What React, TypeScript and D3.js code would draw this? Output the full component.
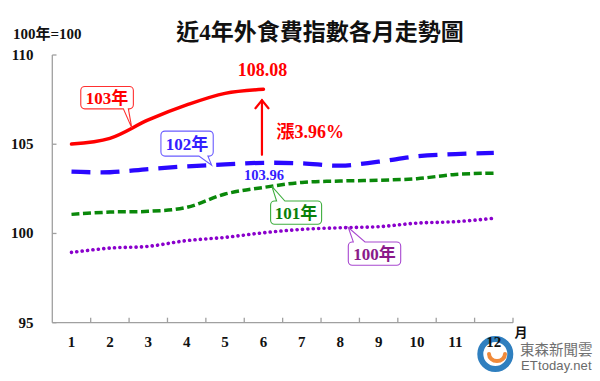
import React from "react";
import * as d3 from "d3";

const months = ["1", "2", "3", "4", "5", "6", "7", "8", "9", "10", "11", "12"];
const yTicks = [95, 100, 105, 110];
const series100 = [98.94, 99.18, 99.28, 99.6, 99.78, 100.04, 100.23, 100.32, 100.38, 100.58, 100.66, 100.85];
const series101 = [101.07, 101.2, 101.24, 101.46, 102.21, 102.58, 102.86, 102.94, 102.98, 103.07, 103.31, 103.38];
const series102 = [103.46, 103.43, 103.61, 103.76, 103.87, 103.96, 103.93, 103.8, 104.02, 104.32, 104.45, 104.52];
const series103 = [105.01, 105.33, 106.36, 107.2, 107.85, 108.08];
const seriesNames = ["100年", "101年", "102年", "103年"];
const title = "近4年外食費指數各月走勢圖";
const baseLabel = "100年=100";
const riseLabel = "漲3.96%";

const W = 600, H = 381;
const serif = "'Liberation Serif', 'Times New Roman', 'Noto Sans CJK TC', serif";

function calloutPath(bx: number, by: number, w: number, h: number, r: number, side: string, b1: number, b2: number, tx: number, ty: number) {
  const p = d3.path();
  p.moveTo(bx + r, by);
  if (side === "top") {
    p.lineTo(b1, by); p.lineTo(tx, ty); p.lineTo(b2, by);
  }
  p.lineTo(bx + w - r, by);
  p.arcTo(bx + w, by, bx + w, by + r, r);
  p.lineTo(bx + w, by + h - r);
  p.arcTo(bx + w, by + h, bx + w - r, by + h, r);
  if (side === "bottom") {
    p.lineTo(b2, by + h); p.lineTo(tx, ty); p.lineTo(b1, by + h);
  }
  p.lineTo(bx + r, by + h);
  p.arcTo(bx, by + h, bx, by + h - r, r);
  p.lineTo(bx, by + r);
  p.arcTo(bx, by, bx + r, by, r);
  p.closePath();
  return p.toString();
}

export default function App() {
  const x = d3.scaleBand<string>().domain(months).range([52.3, 513]);
  const y = d3.scaleLinear().domain([95, 110]).range([322.7, 55]);
  const cx = (i: number) => (x(months[0]) as number) + x.bandwidth() * (i + 0.5);

  const line = d3.line<number>()
    .x((_, i) => cx(i))
    .y((d) => y(d))
    .curve(d3.curveCatmullRom.alpha(0.5));

  const at = (s: number[], f: number) => {
    const i = Math.floor(f), t = f - i;
    const v = s[i] + (s[Math.min(i + 1, s.length - 1)] - s[i]) * t;
    return { tx: cx(f), ty: y(v) };
  };

  const callouts = [
    { name: seriesNames[3], s: series103, f: 1.57, dx: -51, dy: -41.3, w: 52.6, h: 22.3, side: "bottom", b1: -8.4, b2: -3.4, stroke: "#ff3030", fill: "#ff0000" },
    { name: seriesNames[2], s: series102, f: 3.65, dx: -50.7, dy: -34, w: 52.3, h: 25, side: "bottom", b1: -12.7, b2: -3.7, stroke: "#6a5cff", fill: "#3320ff" },
    { name: seriesNames[1], s: series101, f: 5.22, dx: -1.3, dy: 14.7, w: 51, h: 23.3, side: "top", b1: 4.7, b2: 13, stroke: "#3fae3f", fill: "#0a800a" },
    { name: seriesNames[0], s: series100, f: 7.21, dx: 0, dy: 14.4, w: 52.4, h: 23.3, side: "top", b1: 5, b2: 16.7, stroke: "#a848d0", fill: "#8a1a8a" },
  ];

  const last103 = series103.length - 1;
  const px = cx(last103);
  const pTop = y(series103[last103]);
  const pBot = y(series102[last103]);

  return (
    <svg width={W} height={H} style={{ position: "absolute", left: 0, top: 0, background: "#fff" }}>
      <rect width={W} height={H} fill="#fff" />
      {/* title */}
      <text x={320} y={40} textAnchor="middle" fontFamily={serif} fontWeight="bold" fontSize={23} fill="#111">{title}</text>
      <text x={13} y={39} fontFamily={serif} fontWeight="bold" fontSize={15} fill="#111">{baseLabel}</text>

      {/* logo watermark */}
      <g>
        <circle cx={495.3} cy={354} r={15} fill="none" stroke="#2f7fbf" strokeWidth={6} />
        <path d="M489,354 A8,7 0 0 0 505,354" fill="none" stroke="#f08a3a" strokeWidth={4} strokeLinecap="round" />
        <text x={520} y={355} fontFamily="'Noto Sans CJK TC', sans-serif" fontSize={14.5} fill="#707070">東森新聞雲</text>
        <text x={521} y={369.5} fontFamily="'Liberation Sans', Arial, sans-serif" fontSize={13} fill="#6a6a6a" textLength={70.5}>ETtoday.net</text>
      </g>

      {/* axes */}
      <g stroke="#a0a0a0" strokeWidth={1.3} fill="none">
        <line x1={52.3} x2={52.3} y1={y(110)} y2={y(95)} />
        <line x1={52.3} x2={513} y1={y(95)} y2={y(95)} />
        {yTicks.map((t) => (
          <line key={t} x1={52.3} x2={56.5} y1={y(t)} y2={y(t)} />
        ))}
        {months.map((m, i) => (
          <line key={m} x1={52.3 + x.bandwidth() * (i + 1)} x2={52.3 + x.bandwidth() * (i + 1)} y1={y(95)} y2={y(95) - 5} />
        ))}
      </g>
      {yTicks.map((t) => (
        <text key={t} x={33.5} y={y(t) + 5} textAnchor="end" fontFamily={serif} fontWeight="bold" fontSize={15} fill="#111">{t}</text>
      ))}
      {months.map((m, i) => (
        <text key={m} x={cx(i)} y={347} textAnchor="middle" fontFamily={serif} fontWeight="bold" fontSize={15} fill="#111">{m}</text>
      ))}
      <text x={514.5} y={336.5} fontFamily={serif} fontWeight="bold" fontSize={13} fill="#111">月</text>

      {/* series */}
      <path d={line(series100) as string} fill="none" stroke="#8a00cc" strokeWidth={3.6} strokeDasharray="0.1 5.3" strokeLinecap="round" />
      <path d={line(series101) as string} fill="none" stroke="#0a880a" strokeWidth={3.5} strokeDasharray="8 3.6" />
      <path d={line(series102) as string} fill="none" stroke="#2a08ff" strokeWidth={4.3} strokeDasharray="19 10" />
      <path d={line(series103) as string} fill="none" stroke="#ff0000" strokeWidth={3.5} strokeLinecap="round" />

      {/* callouts */}
      {callouts.map((c) => {
        const { tx, ty } = at(c.s, c.f);
        const bx = tx + c.dx, by = ty + c.dy;
        return (
          <g key={c.name}>
            <path d={calloutPath(bx, by, c.w, c.h, 4, c.side, tx + c.b1, tx + c.b2, tx, ty)} fill="#fff" stroke={c.stroke} strokeWidth={1.1} />
            <text x={bx + c.w / 2} y={by + c.h / 2 + 6} textAnchor="middle" fontFamily={serif} fontWeight="bold" fontSize={17} fill={c.fill}>{c.name}</text>
          </g>
        );
      })}

      {/* annotations */}
      <text x={px - 1} y={pTop - 13} textAnchor="middle" fontFamily={serif} fontWeight="bold" fontSize={18} fill="#ff0000">{series103[last103].toFixed(2)}</text>
      <g stroke="#ff0000" strokeWidth={2.2} fill="none" strokeLinecap="round">
        <line x1={px - 1.5} x2={px - 1.5} y1={pBot - 8} y2={pTop + 11} />
        <polyline points={`${px - 8},${pTop + 19} ${px - 1.5},${pTop + 11} ${px + 5},${pTop + 19}`} />
      </g>
      <text x={276.5} y={138.3} fontFamily={serif} fontWeight="bold" fontSize={18} fill="#ff0000">{riseLabel}</text>
      <text x={px + 0.5} y={pBot + 17.5} textAnchor="middle" fontFamily={serif} fontWeight="bold" fontSize={14.5} fill="#3320ff">{series102[last103].toFixed(2)}</text>
    </svg>
  );
}
